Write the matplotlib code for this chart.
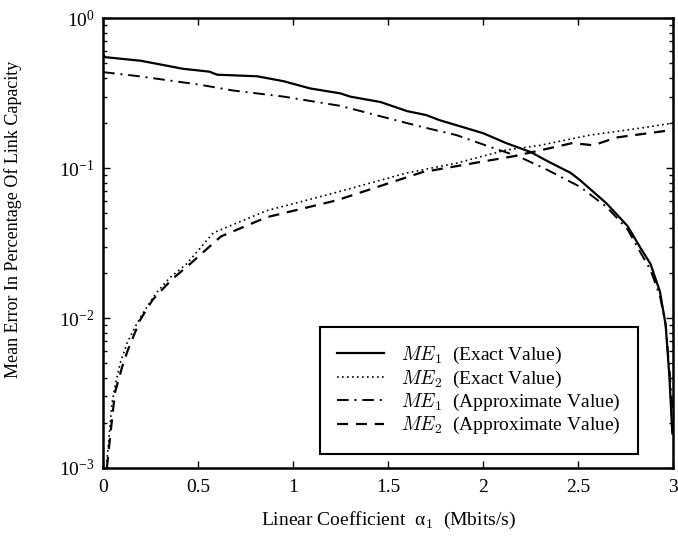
import matplotlib
matplotlib.use('Agg')
import matplotlib.pyplot as plt
from matplotlib.ticker import LogLocator, NullFormatter

plt.rcParams['font.family'] = ['Liberation Serif', 'DejaVu Serif']
plt.rcParams['mathtext.fontset'] = 'cm'
plt.rcParams['font.size'] = 14

# values
me1_exact_x = [0, 0.01, 0.2, 0.42, 0.56, 0.6, 0.81, 0.95, 1.09, 1.25, 1.3, 1.46, 1.6,
               1.7, 1.77, 2.0, 2.12, 2.25, 2.34, 2.46, 2.51, 2.65, 2.76, 2.83, 2.88,
               2.93, 2.96, 2.98, 2.995]
me1_exact_y = [0.575, 0.55, 0.52, 0.46, 0.44, 0.42, 0.41, 0.38, 0.34, 0.315, 0.30, 0.276,
               0.24, 0.226, 0.209, 0.171, 0.147, 0.128, 0.111, 0.093, 0.083, 0.058, 0.041,
               0.029, 0.023, 0.015, 0.009, 0.004, 0.0017]

me2_exact_x = [0.02, 0.047, 0.063, 0.09, 0.126, 0.168, 0.21, 0.28, 0.35, 0.44, 0.58, 0.86,
               1.23, 1.6, 1.86, 2.12, 2.3, 2.56, 2.83, 3.0]
me2_exact_y = [0.0011, 0.0027, 0.0035, 0.005, 0.0068, 0.0087, 0.0108, 0.0147, 0.0185, 0.023,
               0.037, 0.052, 0.069, 0.093, 0.108, 0.132, 0.142, 0.166, 0.185, 0.20]

me1_approx_x = [0, 0.19, 0.51, 0.68, 0.95, 1.25, 1.47, 1.68, 1.86, 2.04, 2.19, 2.34, 2.51,
                2.65, 2.76, 2.83, 2.88, 2.93, 2.96, 2.98, 2.995]
me1_approx_y = [0.437, 0.41, 0.36, 0.33, 0.30, 0.26, 0.22, 0.188, 0.166, 0.138, 0.119, 0.097,
                0.075, 0.055, 0.039, 0.027, 0.021, 0.014, 0.009, 0.0045, 0.0025]

me2_approx_x = [0.02, 0.047, 0.063, 0.1, 0.13, 0.195, 0.26, 0.36, 0.45, 0.62, 0.86, 1.23,
                1.68, 1.95, 2.16, 2.26, 2.47, 2.58, 2.7, 3.0]
me2_approx_y = [0.0010, 0.0021, 0.0032, 0.0047, 0.0061, 0.0097, 0.0132, 0.018, 0.0225, 0.035,
                0.047, 0.061, 0.094, 0.108, 0.12, 0.128, 0.147, 0.142, 0.16, 0.18]

labels = [r'$ME_1$  (Exact Value)', r'$ME_2$  (Exact Value)',
          r'$ME_1$  (Approximate Value)', r'$ME_2$  (Approximate Value)']
x_ticks = [0, 0.5, 1, 1.5, 2, 2.5, 3]
x_tick_labels = ['0', '0.5', '1', '1.5', '2', '2.5', '3']

fig = plt.figure(figsize=(6.78, 5.36), dpi=100)
ax = fig.add_axes([0.152, 0.127, 0.841, 0.839])

ax.plot(me1_exact_x, me1_exact_y, color='black', lw=1.6, ls='-', label=labels[0])
ax.plot(me2_exact_x, me2_exact_y, color='black', lw=1.2, ls=(0, (1, 2)), label=labels[1])
ax.plot(me1_approx_x, me1_approx_y, color='black', lw=1.4, ls=(0, (6, 3, 1, 3)), label=labels[2])
ax.plot(me2_approx_x, me2_approx_y, color='black', lw=1.6, ls=(0, (5, 3.5)), label=labels[3])

ax.set_yscale('log')
ax.set_xlim(0, 3)
ax.set_ylim(1e-3, 1)
ax.set_xticks(x_ticks)
ax.set_xticklabels(x_tick_labels)
ax.yaxis.set_minor_locator(LogLocator(base=10, subs=range(2, 10)))
ax.yaxis.set_minor_formatter(NullFormatter())

ax.tick_params(which='both', direction='in', top=True, right=True, labelsize=14)
ax.tick_params(which='major', length=5, width=1)
ax.tick_params(which='minor', length=3, width=1)
ax.tick_params(axis='x', pad=8)
ax.tick_params(axis='y', pad=6)
for sp in ax.spines.values():
    sp.set_linewidth(1.8)

ax.set_xlabel('Linear Coefficient  α$_1$  (Mbits/s)', fontsize=14, labelpad=10)
ax.set_ylabel('Mean Error In Percentage Of Link Capacity', fontsize=13)
ax.yaxis.set_label_coords(-0.142, 0.553)

leg = ax.legend(loc='lower right', bbox_to_anchor=(0.939, 0.031), borderaxespad=0,
                fancybox=False, framealpha=1, edgecolor='black', handlelength=2.4,
                fontsize=14, labelspacing=0.12, borderpad=0.9, handletextpad=0.9)
leg.get_frame().set_linewidth(1.5)

fig.savefig('out.png', dpi=100)
